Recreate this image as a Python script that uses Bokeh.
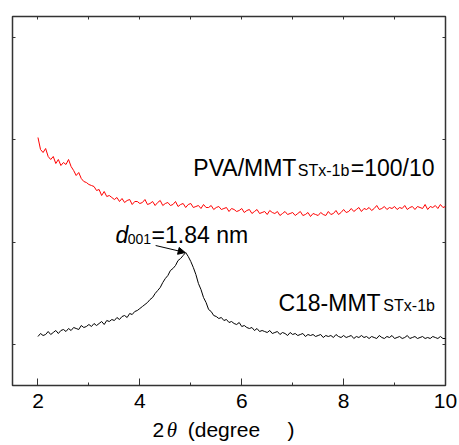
from bokeh.plotting import figure
from bokeh.models import Range1d, FixedTicker, LinearAxis, Arrow, NormalHead, ColumnDataSource
from bokeh.layouts import column
from bokeh.core.properties import value
from bokeh.embed import file_html
from bokeh.resources import INLINE

# ---------------- data ----------------
two_theta = [2.00, 2.05, 2.10, 2.15, 2.20, 2.25, 2.30, 2.35, 2.40, 2.45,
             2.50, 2.55, 2.60, 2.65, 2.70, 2.75, 2.80, 2.85, 2.90, 2.95,
             3.00, 3.05, 3.10, 3.15, 3.20, 3.25, 3.30, 3.35, 3.40, 3.45,
             3.50, 3.55, 3.60, 3.65, 3.70, 3.75, 3.80, 3.85, 3.90, 3.95,
             4.00, 4.05, 4.10, 4.15, 4.20, 4.25, 4.30, 4.35, 4.40, 4.45,
             4.50, 4.55, 4.60, 4.65, 4.70, 4.75, 4.80, 4.85, 4.90, 4.95,
             5.00, 5.05, 5.10, 5.15, 5.20, 5.25, 5.30, 5.35, 5.40, 5.45,
             5.50, 5.55, 5.60, 5.65, 5.70, 5.75, 5.80, 5.85, 5.90, 5.95,
             6.00, 6.05, 6.10, 6.15, 6.20, 6.25, 6.30, 6.35, 6.40, 6.45,
             6.50, 6.55, 6.60, 6.65, 6.70, 6.75, 6.80, 6.85, 6.90, 6.95,
             7.00, 7.05, 7.10, 7.15, 7.20, 7.25, 7.30, 7.35, 7.40, 7.45,
             7.50, 7.55, 7.60, 7.65, 7.70, 7.75, 7.80, 7.85, 7.90, 7.95,
             8.00, 8.05, 8.10, 8.15, 8.20, 8.25, 8.30, 8.35, 8.40, 8.45,
             8.50, 8.55, 8.60, 8.65, 8.70, 8.75, 8.80, 8.85, 8.90, 8.95,
             9.00, 9.05, 9.10, 9.15, 9.20, 9.25, 9.30, 9.35, 9.40, 9.45,
             9.50, 9.55, 9.60, 9.65, 9.70, 9.75, 9.80, 9.85, 9.90, 9.95,
             10.00]

pva_mmt = [248, 236, 233, 237, 229, 226, 229, 222, 226, 220,
           223, 221, 226, 219, 215, 210, 213, 207, 204, 203,
           201, 200, 199, 195, 196, 190, 194, 189, 190, 188,
           186, 188, 184, 187, 183, 185, 186, 181, 184, 184,
           182, 183, 186, 181, 182, 184, 180, 183, 185, 180,
           182, 183, 180, 181, 184, 179, 181, 182, 178, 181,
           182, 178, 179, 180, 177, 181, 178, 178, 180, 176,
           178, 179, 176, 177, 178, 174, 177, 176, 174, 175,
           177, 173, 175, 176, 172, 174, 176, 172, 173, 174,
           171, 175, 173, 172, 174, 170, 172, 174, 171, 172,
           173, 170, 172, 174, 170, 171, 173, 169, 172, 171,
           170, 173, 171, 170, 174, 171, 172, 175, 171, 173,
           176, 173, 174, 177, 174, 176, 178, 174, 177, 176,
           178, 175, 177, 180, 176, 177, 179, 176, 178, 177,
           179, 176, 178, 177, 180, 176, 178, 179, 176, 179,
           178, 177, 181, 176, 179, 178, 180, 177, 181, 178,
           179]

c18_mmt = [49, 52, 50, 51, 54, 51, 53, 55, 52, 55,
           56, 54, 57, 55, 58, 57, 56, 60, 58, 59,
           61, 59, 62, 60, 62, 64, 61, 65, 64, 66,
           65, 68, 66, 69, 70, 68, 72, 71, 74, 75,
           77, 79, 81, 83, 86, 88, 92, 95, 98, 103,
           107, 110, 115, 117, 120, 125, 127, 130, 133, 129,
           124, 118, 111, 102, 96, 88, 83, 76, 74, 70,
           69, 67, 68, 65, 66, 63, 64, 62, 61, 63,
           59, 60, 58, 57, 58, 55, 57, 54, 55, 54,
           53, 55, 52, 53, 54, 51, 53, 52, 50, 53,
           51, 52, 50, 51, 52, 49, 51, 50, 51, 49,
           50, 51, 48, 50, 49, 50, 48, 51, 49, 48,
           50, 48, 49, 50, 47, 49, 48, 50, 48, 49,
           47, 49, 48, 47, 50, 48, 47, 49, 48, 50,
           47, 48, 49, 47, 48, 50, 47, 48, 49, 47,
           48, 49, 47, 48, 47, 49, 48, 47, 49, 47,
           47]

x_ticks = [2, 4, 6, 8, 10]
x_minor_ticks = [3, 5, 7, 9]
top_ticks = [2, 3, 4, 5, 6, 7, 8, 9, 10]
y_ticks = [41, 143, 246, 348]

# annotation anchors (data units)
arrow_start = (4.31, 140)
arrow_end = (4.89, 133)

FONT = "Liberation Sans"
LINE = "#333333"

p = figure(width=459, height=418, output_backend="svg", toolbar_location=None,
           x_range=Range1d(1.5, 10), y_range=Range1d(0, 369),
           min_border_left=12, min_border_right=14, min_border_top=16, min_border_bottom=33,
           x_axis_location=None, y_axis_location=None)
p.grid.visible = False
p.outline_line_color = LINE
p.outline_line_width = 1.5
p.background_fill_color = "white"
p.border_fill_color = "white"

src = ColumnDataSource(dict(x=two_theta, pva=pva_mmt, c18=c18_mmt))
p.line("x", "pva", source=src, line_color="#ff0000", line_width=1)
p.line("x", "c18", source=src, line_color="black", line_width=1)

# bottom axis
bax = LinearAxis(ticker=FixedTicker(ticks=x_ticks, minor_ticks=x_minor_ticks))
bax.axis_line_color = None
bax.major_tick_in = 7
bax.major_tick_out = 0
bax.minor_tick_in = 3
bax.minor_tick_out = 0
bax.major_tick_line_color = LINE
bax.minor_tick_line_color = LINE
bax.major_label_text_font = FONT
bax.major_label_text_font_size = "21px"
bax.major_label_text_color = "black"
bax.major_label_standoff = 8
p.add_layout(bax, "below")

# top axis (ticks only)
tax = LinearAxis(ticker=FixedTicker(ticks=top_ticks, minor_ticks=[]))
tax.axis_line_color = None
tax.major_tick_in = 3
tax.major_tick_out = 0
tax.major_tick_line_color = LINE
tax.major_label_overrides = {t: "" for t in top_ticks}
tax.major_label_text_font_size = "1px"
tax.major_label_standoff = 0
p.add_layout(tax, "above")

for side in ("left", "right"):
    ax = LinearAxis(ticker=FixedTicker(ticks=y_ticks, minor_ticks=[]))
    ax.axis_line_color = None
    ax.major_tick_in = 3
    ax.major_tick_out = 0
    ax.major_tick_line_color = LINE
    ax.major_label_overrides = {t: "" for t in y_ticks}
    ax.major_label_text_font_size = "1px"
    ax.major_label_standoff = 0
    p.add_layout(ax, side)

def txt(fig, x, y, s, size, font=FONT, style="normal"):
    fig.text(x=[x], y=[y], text=[s], text_font=value(font), text_font_size=value(f"{size}px"),
             text_font_style=style, text_color="black", text_baseline="alphabetic",
             text_align="left")

SH = 0.42  # baseline correction factor (em)

# PVA label
txt(p, 5.05, 208 + SH * 23, "PVA/MMT", 23)
txt(p, 7.10, 208 + SH * 16, "STx-1b", 16)
txt(p, 8.14, 208 + SH * 23, "=100/10", 23)
# C18 label
txt(p, 6.72, 73 + SH * 23, "C18-MMT", 23)
txt(p, 8.78, 73 + SH * 16, "STx-1b", 16)
# d001 label
txt(p, 3.52, 141 + SH * 23, "d", 23, style="italic")
txt(p, 3.76, 141 + SH * 14, "001", 14)
txt(p, 4.23, 141 + SH * 23, "=1.84 nm", 23)

p.add_layout(Arrow(end=NormalHead(size=7, fill_color="black", line_color="black", line_width=1),
                   x_start=arrow_start[0], y_start=arrow_start[1],
                   x_end=arrow_end[0], y_end=arrow_end[1],
                   line_color="black", line_width=1))

# strip below for the x-axis title
p2 = figure(width=459, height=27, output_backend="svg", toolbar_location=None,
            x_range=p.x_range, y_range=Range1d(0, 27),
            min_border_left=12, min_border_right=14, min_border_top=0, min_border_bottom=0,
            x_axis_location=None, y_axis_location=None)
p2.grid.visible = False
p2.outline_line_color = None
p2.background_fill_color = "white"
p2.border_fill_color = "white"

txt(p2, 4.25, 7 + SH * 21, "2", 21)
txt(p2, 4.53, 7 + SH * 21, "θ", 21, font="Liberation Serif", style="italic")
txt(p2, 4.94, 7 + SH * 21, "(degree", 21)
txt(p2, 6.90, 7 + SH * 21, ")", 21)

layout = column(p, p2, spacing=0)
open("out.html", "w").write(file_html(layout, INLINE))
